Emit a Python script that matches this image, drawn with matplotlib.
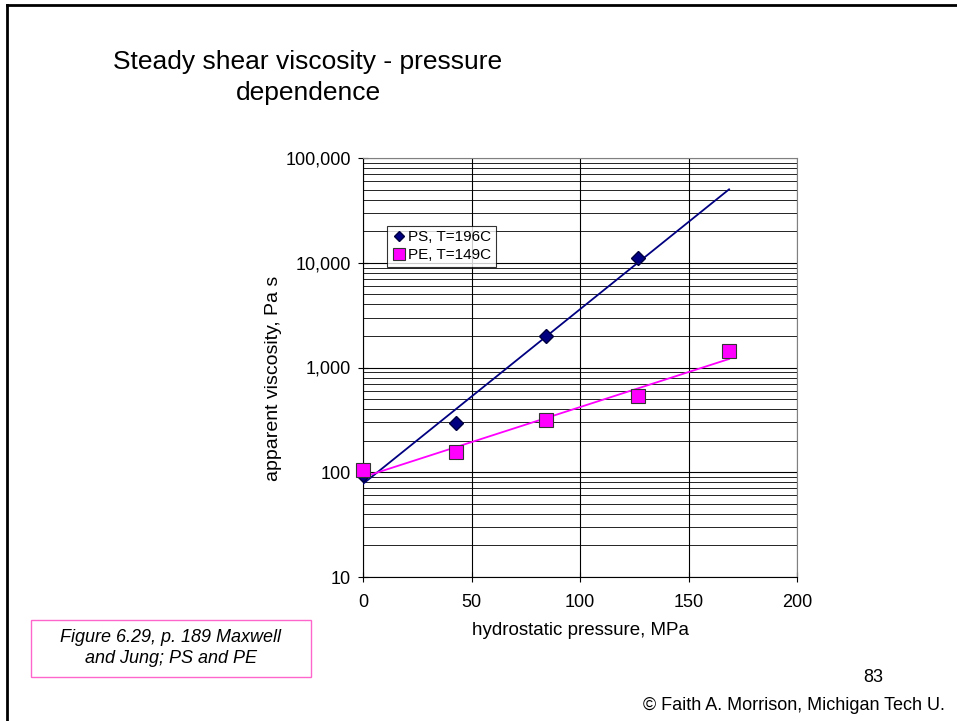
import numpy as np
import matplotlib
matplotlib.use("Agg")
import matplotlib.pyplot as plt
from matplotlib.ticker import FixedLocator, FuncFormatter, LogLocator, NullFormatter
from matplotlib.patches import Rectangle
from matplotlib.lines import Line2D

plt.rcParams['font.family'] = ['Liberation Sans', 'DejaVu Sans']

# data
ps_pressure = [0, 43, 84.5, 126.5]
ps_visc = [95, 295, 2000, 11000]
pe_pressure = [0, 43, 84.5, 126.5, 168.7]
pe_visc = [104, 155, 318, 535, 1430]

x_ticks = [0, 50, 100, 150, 200]
y_ticks = [10, 100, 1000, 10000, 100000]

fig = plt.figure(figsize=(9.57, 7.21), dpi=100)

# slide frame
fig.add_artist(Line2D([7 / 957, 7 / 957], [0, 1 - 5 / 721], color='black', lw=2))
fig.add_artist(Line2D([7 / 957, 1], [1 - 5 / 721, 1 - 5 / 721], color='black', lw=2))

ax = fig.add_axes([363 / 957, 1 - 577 / 721, 434 / 957, 419 / 721])
ax.set_yscale('log')
ax.set_xlim(0, 200)
ax.set_ylim(10, 100000)

# exponential trendlines (least squares on log10)
xfit = np.linspace(0, max(pe_pressure), 100)
k_ps = np.polyfit(ps_pressure, np.log10(ps_visc), 1)
k_pe = np.polyfit(pe_pressure, np.log10(pe_visc), 1)
ax.plot(xfit, 10 ** np.polyval(k_ps, xfit), color='#000080', lw=1.3, zorder=3)
ax.plot(xfit, 10 ** np.polyval(k_pe, xfit), color='#FF00FF', lw=1.3, zorder=3)

ax.plot(ps_pressure, ps_visc, linestyle='none', marker='D', markersize=7,
        color='#000080', markeredgecolor='#000040', label='PS, T=196C',
        zorder=4, clip_on=False)
ax.plot(pe_pressure, pe_visc, linestyle='none', marker='s', markersize=10,
        color='#FF00FF', markeredgecolor='#333333', markeredgewidth=0.8,
        label='PE, T=149C', zorder=4, clip_on=False)

ax.xaxis.set_major_locator(FixedLocator(x_ticks))
ax.yaxis.set_major_locator(FixedLocator(y_ticks))
ax.yaxis.set_minor_locator(LogLocator(base=10, subs=np.arange(2, 10)))
ax.yaxis.set_minor_formatter(NullFormatter())
ax.yaxis.set_major_formatter(FuncFormatter(lambda v, p: f"{int(round(v)):,}"))

ax.grid(True, which='major', color='black', lw=0.8)
ax.grid(True, which='minor', axis='y', color='black', lw=0.6)
ax.set_axisbelow(True)

ax.tick_params(axis='both', which='major', direction='inout', length=7,
               labelsize=13)
ax.tick_params(axis='x', which='major', pad=9)
ax.tick_params(axis='y', which='major', pad=5)
ax.tick_params(axis='y', which='minor', length=0)
for side in ['top', 'right']:
    ax.spines[side].set_color('#808080')
for side in ['left', 'bottom']:
    ax.spines[side].set_color('black')

ax.set_xlabel('hydrostatic pressure, MPa', fontsize=13.5, labelpad=8)
ax.set_ylabel('apparent viscosity, Pa s', fontsize=14)
ax.yaxis.set_label_coords(-0.186, 0.475)

leg = ax.legend(loc='upper left', bbox_to_anchor=(0.055, 0.838), fontsize=11,
                frameon=True, fancybox=False, edgecolor='black',
                borderpad=0.3, labelspacing=0.25, handletextpad=0.1,
                handlelength=1.0, borderaxespad=0, markerscale=0.8)
leg.get_frame().set_linewidth(0.8)

# slide texts
fig.text(113 / 957, 1 - 62 / 721, 'Steady shear viscosity - pressure',
         fontsize=19, va='center', ha='left')
fig.text(308 / 957, 1 - 93 / 721, 'dependence', fontsize=19,
         va='center', ha='center')

fig.add_artist(Rectangle((31 / 957, 1 - 677 / 721), 280 / 957, 57 / 721,
                         transform=fig.transFigure, fill=False,
                         edgecolor='#FF66CC', lw=1))
fig.text(171 / 957, 1 - 648 / 721,
         'Figure 6.29, p. 189 Maxwell\nand Jung; PS and PE',
         fontsize=13, style='italic', ha='center', va='center',
         linespacing=1.3)

fig.text(873 / 957, 1 - 677 / 721, '83', fontsize=13, ha='center', va='center')
fig.text(945 / 957, 1 - 705 / 721, '\u00a9 Faith A. Morrison, Michigan Tech U.',
         fontsize=13, ha='right', va='center')

fig.savefig('out.png', dpi=100)
